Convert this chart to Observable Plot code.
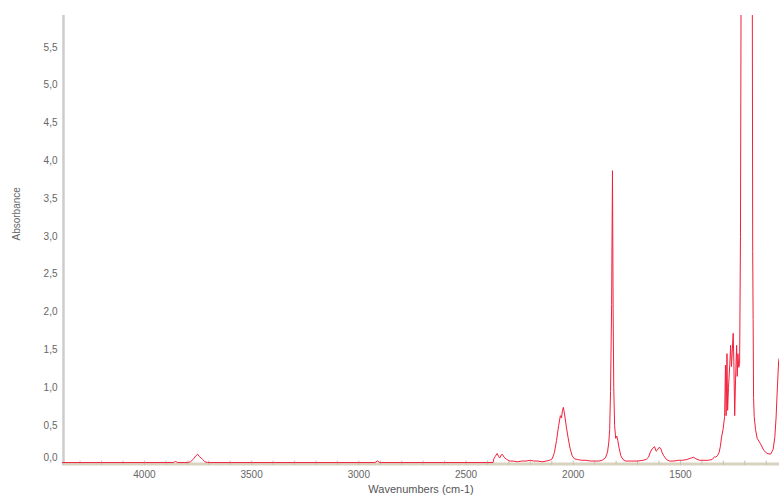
<!DOCTYPE html>
<html>
<head>
<meta charset="utf-8">
<script src="https://cdn.jsdelivr.net/npm/d3@7"></script>
<script src="https://cdn.jsdelivr.net/npm/@observablehq/plot@0.6"></script>
<style>
  html, body { margin: 0; padding: 0; background: #fff; }
  #chart { width: 779px; height: 495px; overflow: hidden; }
</style>
</head>
<body>
<div id="chart"></div>
<script>
const wavenumbers = [
  4382, 4300, 4200, 4100, 4000, 3900, 3865, 3855, 3845, 3800, 3785, 3770, 3760, 3752, 3744, 3735, 3728, 3718, 3705,
  3600, 3500, 3400, 3300, 3200, 3100, 3000, 2925, 2913, 2902, 2800, 2700, 2600, 2500, 2400,
  2374, 2370, 2364, 2355, 2348, 2343, 2336, 2331, 2322, 2310, 2296, 2280, 2260, 2240, 2220, 2200, 2185, 2165, 2145, 2125, 2110,
  2098, 2088, 2078, 2068, 2060, 2055, 2050, 2046, 2040, 2032, 2024, 2015, 2005, 1995, 1980, 1960, 1940, 1920, 1900, 1880,
  1865, 1850, 1840, 1834, 1830, 1826, 1821, 1817, 1814, 1811, 1807, 1802, 1797, 1792, 1786, 1778, 1768, 1755, 1730, 1700,
  1675, 1660, 1649, 1640, 1632, 1621, 1613, 1609, 1600, 1593, 1585, 1578, 1565, 1550, 1530, 1510, 1490, 1470, 1450, 1439,
  1428, 1410, 1390, 1370, 1352, 1340, 1335, 1328, 1320, 1314, 1308, 1301, 1294, 1290, 1287, 1283, 1280, 1276, 1270, 1266,
  1262, 1258, 1254, 1251, 1247, 1243, 1238, 1235, 1232, 1228, 1224, 1220, 1217, 1200, 1180, 1165, 1163, 1161, 1159, 1156,
  1150, 1142, 1127, 1111, 1096, 1080, 1068, 1060, 1054, 1049, 1042, 1038
];
const absorbance = [
  0.01, 0.01, 0.01, 0.01, 0.01, 0.01, 0.01, 0.025, 0.01, 0.01, 0.02, 0.06, 0.10, 0.12, 0.09, 0.07, 0.05, 0.02, 0.01,
  0.01, 0.01, 0.01, 0.01, 0.01, 0.01, 0.01, 0.01, 0.03, 0.01, 0.01, 0.01, 0.01, 0.01, 0.01,
  0.01, 0.06, 0.09, 0.13, 0.09, 0.07, 0.11, 0.12, 0.08, 0.05, 0.03, 0.03, 0.02, 0.03, 0.03, 0.04, 0.03, 0.03, 0.02, 0.03, 0.04,
  0.06, 0.14, 0.30, 0.50, 0.63, 0.60, 0.70, 0.74, 0.64, 0.48, 0.34, 0.20, 0.10, 0.06, 0.05, 0.04, 0.04, 0.03, 0.03, 0.03,
  0.04, 0.07, 0.15, 0.28, 0.45, 0.95, 2.10, 3.87, 2.05, 1.00, 0.50, 0.33, 0.36, 0.30, 0.20, 0.10, 0.05, 0.03, 0.03, 0.03,
  0.04, 0.05, 0.08, 0.15, 0.19, 0.22, 0.16, 0.17, 0.21, 0.20, 0.14, 0.10, 0.05, 0.03, 0.03, 0.04, 0.04, 0.05, 0.07, 0.08,
  0.06, 0.04, 0.04, 0.04, 0.05, 0.09, 0.08, 0.10, 0.14, 0.22, 0.35, 0.45, 0.62, 1.30, 0.63, 1.45, 0.70, 1.00, 1.30, 1.56,
  1.28, 1.50, 1.72, 1.35, 0.63, 1.10, 1.56, 1.15, 1.45, 1.27, 1.32, 3.00, 6.50, 7.50, 7.50, 6.50, 2.80, 1.90, 0.87, 0.62,
  0.45, 0.33, 0.26, 0.17, 0.13, 0.12, 0.18, 0.34, 0.60, 0.93, 1.36, 1.40
];
const xTicks = [4000, 3500, 3000, 2500, 2000, 1500];
const yTicks = [0.5, 1.0, 1.5, 2.0, 2.5, 3.0, 3.5, 4.0, 4.5, 5.0, 5.5];
const yZeroTick = [0.0];
const xMinorTicks = d3.range(4300, 1000, -100);

const spectrum = wavenumbers.map((w, i) => ({w, a: absorbance[i]}));
const fmt = d => d.toFixed(1).replace(".", ",");
const xDomain = [4382, 1038];
const yDomain = [-0.029, 5.923];

const chart = Plot.plot({
  width: 779,
  height: 495,
  marginLeft: 62,
  marginRight: 0,
  marginTop: 15,
  marginBottom: 30,
  style: {fontFamily: "'Liberation Sans', Arial, sans-serif", background: "#fff"},
  x: {domain: xDomain},
  y: {domain: yDomain},
  marks: [
    Plot.ruleY([yDomain[0]], {stroke: "#d8d3bf", strokeWidth: 3, dy: -1.5}),
    Plot.ruleX(xMinorTicks, {y1: yDomain[0], y2: 0.03, stroke: "#c8c2ad", strokeWidth: 1}),
    Plot.ruleX([xDomain[0]], {stroke: "#cccccc", strokeWidth: 2.5, dx: 1}),
    Plot.line(spectrum, {x: "w", y: "a", stroke: "#f2203c", strokeWidth: 1, clip: true}),
    Plot.axisY(yTicks, {tickSize: 0, tickPadding: 5, tickFormat: fmt, fontSize: 10, color: "#666", label: null}),
    Plot.axisY(yZeroTick, {tickSize: 0, tickPadding: 5, tickFormat: fmt, fontSize: 10, color: "#666", label: null, dy: -6}),
    Plot.axisX(xTicks, {tickSize: 0, tickPadding: 5, fontSize: 10, color: "#666", label: null, tickFormat: d => String(d)}),
    Plot.text(["Absorbance"], {frameAnchor: "left", dx: -46, rotate: -90, fontSize: 10, fill: "#666"}),
    Plot.text(["Wavenumbers (cm-1)"], {frameAnchor: "bottom", lineAnchor: "top", dy: 20, fontSize: 11, fill: "#555"})
  ]
});
document.getElementById("chart").appendChild(chart);
</script>
</body>
</html>
